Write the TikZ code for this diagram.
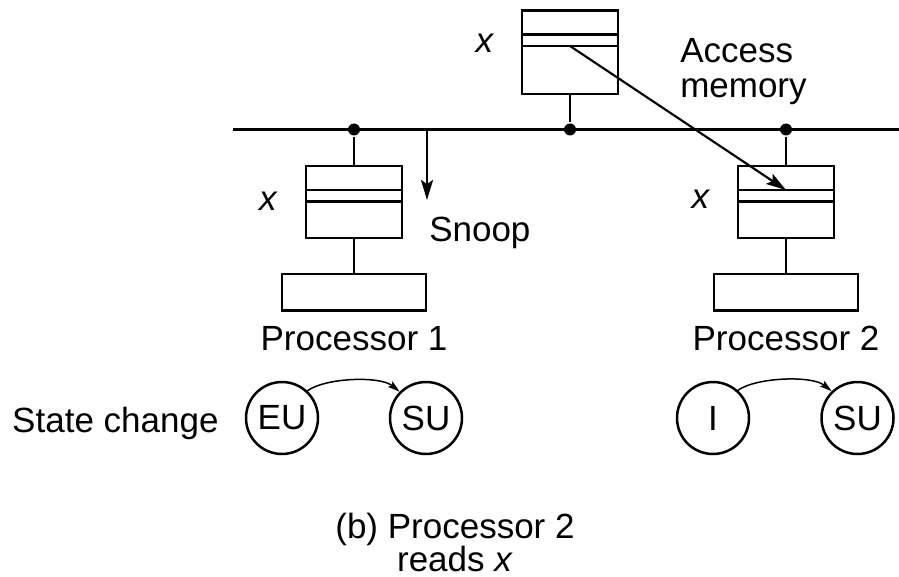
\documentclass[tikz,border=0pt]{standalone}
\usepackage{fontspec}
\setmainfont{Liberation Sans}
\usetikzlibrary{arrows.meta,calc}

\begin{document}
\begin{tikzpicture}[x=1pt,y=-1pt,
  line width=2.5pt,
  lbl/.style={inner sep=0pt,font=\fontsize{35}{35}\selectfont},
  cachebox/.style={draw,rectangle,minimum width=96pt,minimum height=72pt,inner sep=0pt,outer sep=0pt},
  membox/.style={draw,rectangle,minimum width=96pt,minimum height=83.5pt,inner sep=0pt,outer sep=0pt},
  procbox/.style={draw,rectangle,minimum width=144pt,minimum height=36.5pt,inner sep=0pt,outer sep=0pt},
  state/.style={draw,circle,minimum size=72pt,inner sep=0pt,font=\fontsize{35}{35}\selectfont},
  tap/.style={fill,circle,minimum size=12pt,inner sep=0pt},
  bigarrow/.style={line width=2.2pt,-{Stealth[length=20pt,width=12pt,inset=4pt]}},
  statearrow/.style={line width=1.5pt,-{Stealth[length=12pt,width=7pt,inset=2pt]}},
]
\useasboundingbox (0,0) rectangle (899,577);

% shared bus
\coordinate (busL) at (233,129.5);
\coordinate (busR) at (899,129.5);
\draw (busL) -- (busR);

% memory and the two processors with their caches
\node[membox] (mem) at (570,52.25) {};
\node[cachebox] (c1) at (354,202) {};
\node[cachebox] (c2) at (786,202) {};
\node[procbox] (p1) at (354,292.25) {};
\node[procbox] (p2) at (786,292.25) {};

% cache line of x in each store
\foreach \b in {mem,c1,c2}{
  \draw ($(\b.north west)+(0,24)$) -- ($(\b.north east)+(0,24)$);
  \draw ($(\b.north west)+(0,35.5)$) -- ($(\b.north east)+(0,35.5)$);
}

% bus taps and stems
\node[tap] (t0) at (570,129.5) {};
\node[tap] (t1) at (354,129.5) {};
\node[tap] (t2) at (786,129.5) {};
\draw (mem) -- (t0);
\draw (t1) -- (c1) -- (p1);
\draw (t2) -- (c2) -- (p2);

% memory access by processor 2
\coordinate (mlow) at ($(mem.north)+(0,35.5)$);
\coordinate (c2up) at ($(c2.north)+(0,24)$);
\draw[bigarrow] (mlow) -- (c2up);

% snoop on the bus
\coordinate (snoopA) at (427,129.5);
\coordinate (snoopB) at (427,200);
\draw[bigarrow,line width=2.5pt] (snoopA) -- (snoopB);

% labels
\node[lbl] (xm) at (485,43) {\textit{x}};
\node[lbl] (x1) at (268.5,201) {\textit{x}};
\node[lbl] (x2) at (701,199) {\textit{x}};
\node[lbl,anchor=north west,align=left] (acc) at (679,36.7) {Access\\memory};
\node[lbl,anchor=base west] (snoop) at (428,241.5) {Snoop};
\node[lbl,anchor=base] (p1lbl) at (354,350) {Processor 1};
\node[lbl,anchor=base] (p2lbl) at (786,350) {Processor 2};

% state transitions
\node[lbl,anchor=base west] (sc) at (11,432) {State change};
\node[state] (eu) at (282,418) {EU};
\node[state] (su1) at (426,418) {SU};
\node[state] (inv) at (713,418) {I};
\node[state] (su2) at (857.5,418) {SU};
\draw[statearrow] (eu.47) .. controls +(18,-13) and +(-20,-16) .. (su1.135);
\draw[statearrow] (inv.48) .. controls +(18,-13) and +(-20,-16) .. (su2.134);

% caption
\node[lbl,anchor=north,align=center,font=\fontsize{35}{29}\selectfont] (cap) at (455,511.5) {(b) Processor 2\\reads \textit{x}};
\end{tikzpicture}
\end{document}
